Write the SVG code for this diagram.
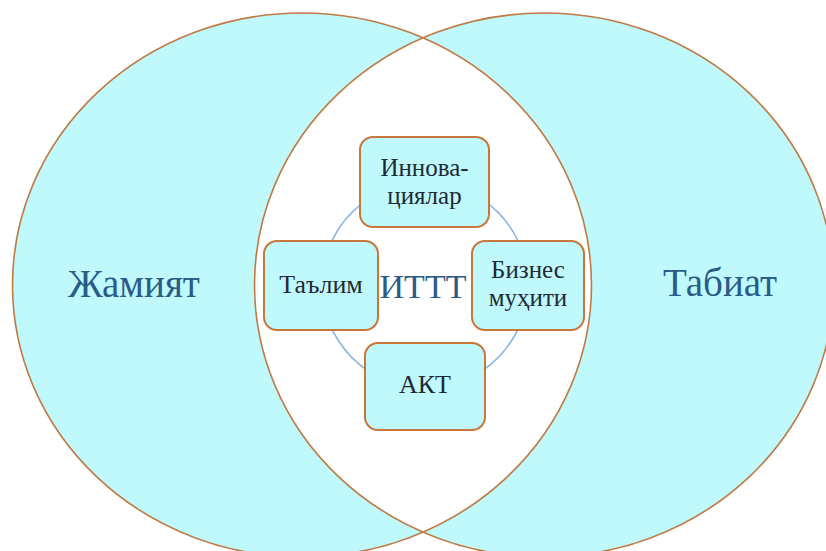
<svg xmlns="http://www.w3.org/2000/svg" width="826" height="551" viewBox="0 0 826 551">
  <defs>
    <style>
      .set { fill: #bff9fb; }
      .edge { fill: none; stroke: #c07a44; stroke-width: 1.6; }
      .box { fill: #bff9fb; stroke: #c8763a; stroke-width: 2; }
      .lbl { font-family: "Liberation Serif", "DejaVu Serif", serif; font-size: 26px; fill: #1f2a36; text-anchor: middle; }
      .two { font-size: 25px; }
      .big { font-family: "Liberation Serif", "DejaVu Serif", serif; font-size: 39px; fill: #2b5b87; text-anchor: middle; }
      .ring { fill: none; stroke: #8fb8e0; stroke-width: 1.6; }
    </style>
    <clipPath id="clipLeft">
      <ellipse cx="302" cy="285" rx="289.5" ry="272"/>
    </clipPath>
  </defs>
  <rect width="826" height="551" fill="#ffffff"/>
  <g id="sets">
    <ellipse class="set" cx="302" cy="285" rx="289.5" ry="272"/>
    <ellipse class="set" cx="544" cy="285" rx="289.5" ry="272"/>
    <ellipse cx="544" cy="285" rx="289.5" ry="272" fill="#ffffff" clip-path="url(#clipLeft)"/>
    <ellipse class="edge" cx="302" cy="285" rx="289.5" ry="272"/>
    <ellipse class="edge" cx="544" cy="285" rx="289.5" ry="272"/>
  </g>
  <g id="society"><text class="big" x="134" y="297">Жамият</text></g>
  <g id="nature"><text class="big" x="720" y="296">Табиат</text></g>
  <g id="connectors">
    <circle class="ring" cx="425" cy="285" r="103"/>
  </g>
  <g id="ittt"><text class="big" x="423" y="298" style="font-size:34px">ИТТТ</text></g>
  <g id="innovations">
    <rect class="box" x="360" y="137" width="129" height="90" rx="13"/>
    <text class="lbl two" x="424.5" y="176">Иннова-</text>
    <text class="lbl two" x="424.5" y="204">циялар</text>
  </g>
  <g id="education">
    <rect class="box" x="264" y="241" width="114" height="89" rx="13"/>
    <text class="lbl" x="321" y="293">Таълим</text>
  </g>
  <g id="business">
    <rect class="box" x="472" y="241" width="112" height="89" rx="13"/>
    <text class="lbl two" x="528" y="278">Бизнес</text>
    <text class="lbl two" x="528" y="306">муҳити</text>
  </g>
  <g id="ict">
    <rect class="box" x="365" y="343" width="120" height="87" rx="13"/>
    <text class="lbl" x="425" y="393">АКТ</text>
  </g>
</svg>
